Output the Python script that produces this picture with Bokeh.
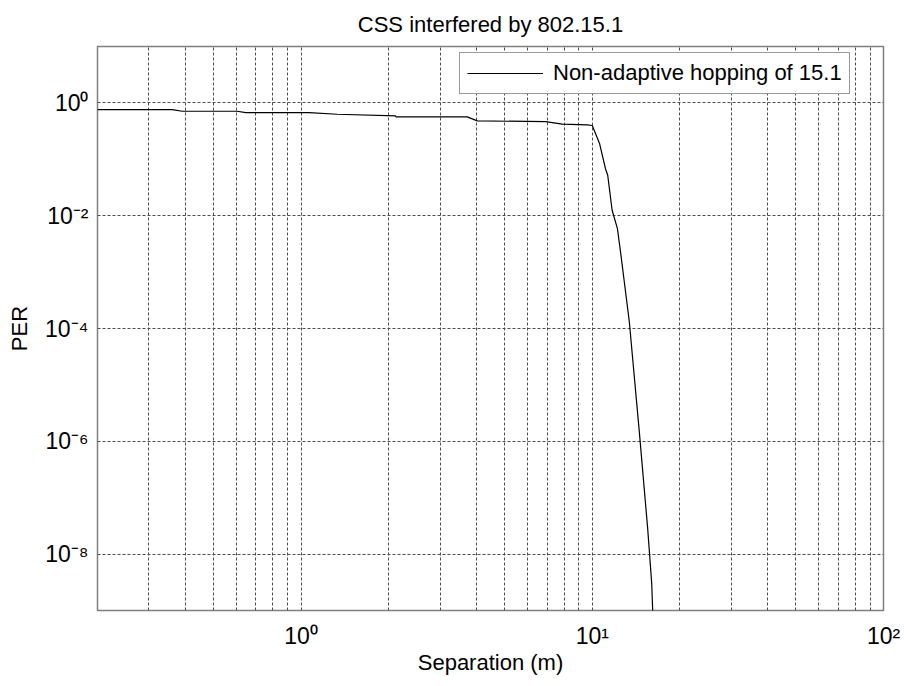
from bokeh.plotting import figure
from bokeh.models import (ColumnDataSource, FixedTicker, CustomJSTickFormatter, Legend, LegendItem)
from bokeh.embed import file_html
from bokeh.resources import INLINE

# ---- data ----
separation_m = [0.2, 0.361, 0.391, 0.604, 0.645, 1.064, 1.331, 2.11, 2.12, 3.72, 4.03,
                6.91, 7.89, 9.61, 10.0, 10.6, 11.1, 11.3, 11.7, 12.2, 12.5, 13.4,
                14.5, 15.5, 16.0, 16.2]
per = [0.760, 0.760, 0.711, 0.711, 0.673, 0.673, 0.629, 0.588, 0.564, 0.564, 0.479,
       0.467, 0.419, 0.407, 0.397, 0.188, 0.068, 0.052, 0.0125, 0.0059, 0.0023, 1.33e-4,
       1.5e-6, 2.8e-8, 3e-9, 5e-10]
series_name = "Non-adaptive hopping of 15.1"

x_major_ticks = [1, 10, 100]
x_tick_labels = ["10\u2070", "10\u00b9", "10\u00b2"]
x_grid_ticks = [0.3, 0.4, 0.5, 0.6, 0.7, 0.8, 0.9, 1, 2, 3, 4, 5, 6, 7, 8, 9, 10,
                20, 30, 40, 50, 60, 70, 80, 90]
y_major_ticks = [1e-8, 1e-6, 1e-4, 1e-2, 1]
y_tick_labels = ["10\u207b\u2078", "10\u207b\u2076", "10\u207b\u2074", "10\u207b\u00b2", "10\u2070"]

FONT = "Liberation Sans"

p = figure(width=904, height=686, x_axis_type="log", y_axis_type="log",
           x_range=(0.2, 100), y_range=(1e-9, 10),
           output_backend="svg", toolbar_location=None,
           min_border_left=97, min_border_right=21, min_border_top=44, min_border_bottom=76)

p.title.text = "CSS interfered by 802.15.1"
p.title.align = "center"
p.title.text_font = FONT
p.title.text_font_size = "22px"
p.title.text_font_style = "normal"
p.title.text_color = "#000000"
p.title.standoff = 19

p.outline_line_color = "#7f7f7f"
p.outline_line_width = 1.5
p.background_fill_color = "white"
p.border_fill_color = "white"

fmt_code = """
let best = 0; let bd = 1e99;
for (let i = 0; i < vals.length; i++) {
  const d = Math.abs(Math.log10(vals[i]) - Math.log10(tick));
  if (d < bd) { bd = d; best = i; }
}
return bd < 0.01 ? labs[best] : '';
"""
p.xaxis.ticker = FixedTicker(ticks=x_major_ticks, minor_ticks=[])
p.xaxis.formatter = CustomJSTickFormatter(args=dict(vals=x_major_ticks, labs=x_tick_labels), code=fmt_code)
p.yaxis.ticker = FixedTicker(ticks=y_major_ticks, minor_ticks=[])
p.yaxis.formatter = CustomJSTickFormatter(args=dict(vals=y_major_ticks, labs=y_tick_labels), code=fmt_code)

for ax in (p.xaxis, p.yaxis):
    ax.axis_line_color = None
    ax.major_tick_line_color = None
    ax.minor_tick_line_color = None
    ax.major_tick_in = 0
    ax.major_tick_out = 0
    ax.minor_tick_in = 0
    ax.minor_tick_out = 0
    ax.major_label_text_font = FONT
    ax.major_label_text_font_size = "23px"
    ax.major_label_text_color = "#000000"
    ax.axis_label_text_font = FONT
    ax.axis_label_text_font_size = "22px"
    ax.axis_label_text_font_style = "normal"
    ax.axis_label_text_color = "#000000"

p.xaxis.axis_label = "Separation (m)"
p.yaxis.axis_label = "PER"
p.xaxis.major_label_standoff = 12
p.yaxis.major_label_standoff = 9
p.xaxis.axis_label_standoff = -2
p.yaxis.axis_label_standoff = 10

p.xgrid.ticker = FixedTicker(ticks=x_grid_ticks)
p.ygrid.ticker = FixedTicker(ticks=y_major_ticks)
for g in (p.xgrid, p.ygrid):
    g.grid_line_color = "#4d4d4d"
    g.grid_line_dash = "3 2"
    g.grid_line_width = 1

src = ColumnDataSource(dict(x=separation_m, y=per))
r = p.line("x", "y", source=src, line_color="black", line_width=1.2)

legend = Legend(items=[LegendItem(label=series_name, renderers=[r])],
                location=(362, 516), orientation="vertical")
legend.label_text_font = FONT
legend.label_text_font_size = "22px"
legend.label_text_color = "#000000"
legend.label_height = 22
legend.glyph_height = 22
legend.glyph_width = 76
legend.label_standoff = 10
legend.padding = 7
legend.margin = 0
legend.border_line_color = "#333333"
legend.border_line_width = 1
legend.background_fill_alpha = 1
p.add_layout(legend)

open("out.html", "w").write(file_html(p, INLINE))
